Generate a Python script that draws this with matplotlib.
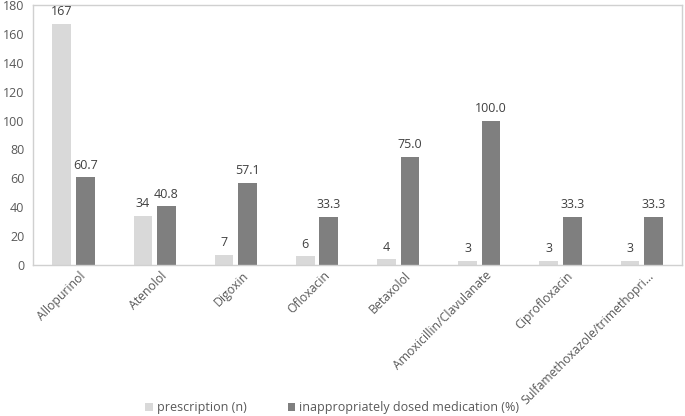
import matplotlib.pyplot as plt
import matplotlib.transforms as mtransforms
import numpy as np

drugs = ["Allopurinol", "Atenolol", "Digoxin", "Ofloxacin", "Betaxolol",
         "Amoxicillin/Clavulanate", "Ciprofloxacin", "Sulfamethoxazole/trimethopri..."]
prescriptions = [167, 34, 7, 6, 4, 3, 3, 3]
inappropriate_pct = [60.7, 40.8, 57.1, 33.3, 75.0, 100.0, 33.3, 33.3]

LIGHT = "#d9d9d9"
DARK = "#7f7f7f"
TXT = "#404040"
TICK = "#595959"

plt.rcParams["font.family"] = ["Open Sans", "DejaVu Sans"]

fig = plt.figure(figsize=(6.85, 4.16), dpi=100)
ax = fig.add_axes([0.048, 0.363, 0.948, 0.625])

x = np.arange(len(drugs))
w = 0.23
gap = 0.06
b1 = ax.bar(x - (w + gap) / 2, prescriptions, w, color=LIGHT, label="prescription (n)")
b2 = ax.bar(x + (w + gap) / 2, inappropriate_pct, w, color=DARK,
            label="inappropriately dosed medication (%)")

ax.bar_label(b1, labels=[str(v) for v in prescriptions], padding=4, fontsize=9, color=TXT)
ax.bar_label(b2, labels=[f"{v:.1f}" for v in inappropriate_pct], padding=4, fontsize=9, color=TXT)

ax.set_xlim(-0.5, len(drugs) - 0.5)
ax.set_ylim(0, 180)
ax.set_yticks(range(0, 181, 20))
ax.tick_params(axis="y", length=0, labelsize=9, labelcolor=TICK, pad=6)
ax.tick_params(axis="x", length=0, labelsize=8.8, labelcolor=TICK, pad=3)
ax.set_xticks(x)
ax.set_xticklabels(drugs, rotation=45, ha="right", rotation_mode="anchor")
shift = mtransforms.ScaledTranslation(6 / 100, 0, fig.dpi_scale_trans)
for lbl in ax.get_xticklabels():
    lbl.set_transform(lbl.get_transform() + shift)
for s in ax.spines.values():
    s.set_color("#d0d0d0")
    s.set_linewidth(1.0)

fig.legend(loc="center", bbox_to_anchor=(0.485, 0.02), ncol=2, frameon=False,
           fontsize=9, handlelength=0.6, handleheight=0.6, handletextpad=0.3,
           columnspacing=3.3, labelcolor=TICK)

fig.savefig("out.png", dpi=100)
